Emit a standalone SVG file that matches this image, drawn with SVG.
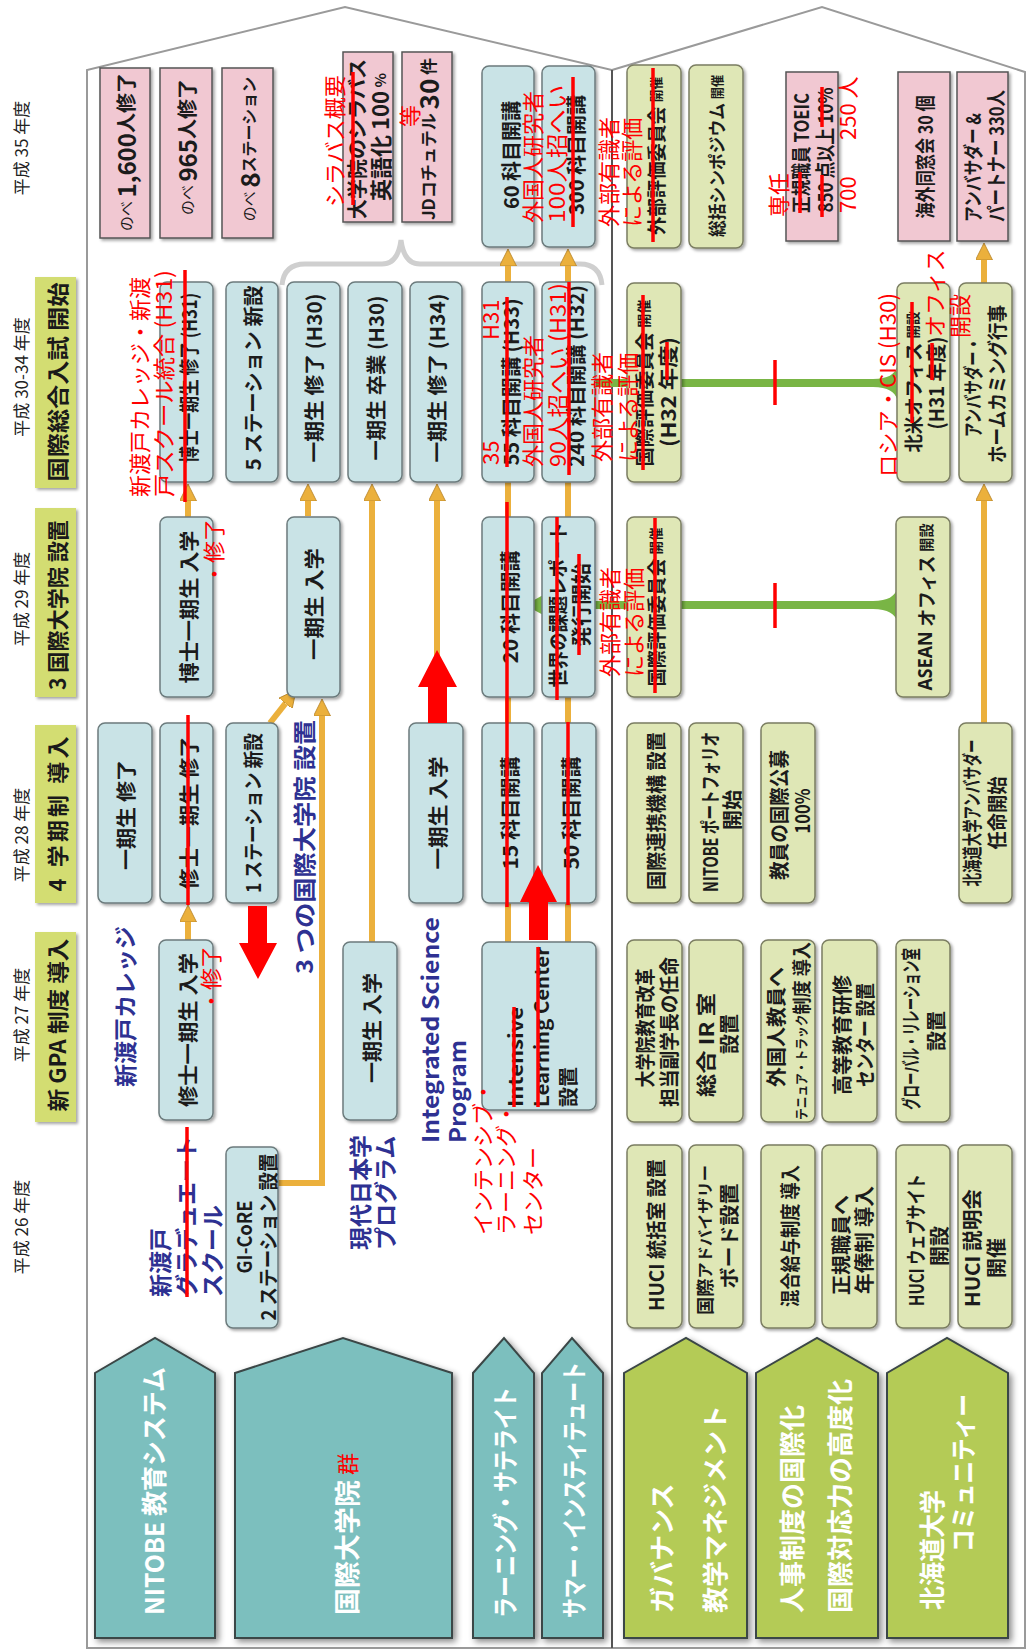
<svg xmlns="http://www.w3.org/2000/svg" width="1027" height="1651" viewBox="0 0 1027 1651">
<defs>
<style>
text{font-family:"Noto Sans CJK JP","Noto Sans",sans-serif;dominant-baseline:central}
.c{text-anchor:middle}
.st{text-anchor:start}
.yr{font-size:17px;fill:#222}
.evb{fill:#d3dd72;filter:url(#ds)}
.evt{font-size:22px;font-weight:700;fill:#1a1a1a}
.bl{fill:#c9e3e6;stroke:#6c7b7d;stroke-width:1.5;filter:url(#ds)}
.gr{fill:#dfe7b6;stroke:#7b7e62;stroke-width:1.5;filter:url(#ds)}
.pk{fill:#f1c8d2;stroke:#555;stroke-width:1.5;filter:url(#ds)}
.b{font-size:20px;font-weight:700;fill:#1b1b1b}
.cat{stroke:#3b4646;stroke-width:2;filter:url(#ds2)}
.teal{fill:#7bbfbe}
.lime{fill:#b4cb56}
.ct{font-size:26px;font-weight:700;fill:#fff}
.nv{font-size:23px;font-weight:700;fill:#2e3192}
.r{font-size:22px;fill:#ff0000}
.rl{stroke:#ff0000;stroke-width:3.5}
.ora{stroke:#ebb03c;stroke-width:6;fill:none}
.gln{stroke:#79b545;stroke-width:8;fill:none}
.gfl{fill:#79b545}
.frame{fill:#fff;stroke:#9a9a9a;stroke-width:2}
.div{stroke:#555;stroke-width:2}
</style>
<filter id="ds" x="-20%" y="-20%" width="150%" height="150%"><feDropShadow dx="2" dy="2" stdDeviation="1.5" flood-color="#000" flood-opacity="0.35"/></filter>
<filter id="ds2" x="-20%" y="-20%" width="150%" height="150%"><feDropShadow dx="3" dy="3" stdDeviation="3" flood-color="#000" flood-opacity="0.45"/></filter>
<marker id="oa" viewBox="0 0 10 10" refX="0" refY="5" markerWidth="17" markerHeight="17" markerUnits="userSpaceOnUse" orient="auto"><path d="M0,0 L10,5 L0,10 z" fill="#ebb03c" stroke="#b8862a" stroke-width="0.5"/></marker>
</defs>
<rect x="0" y="0" width="1027" height="1651" fill="#fff"/>

<g id="frame">
<path class="frame" d="M87,1648 V70 L345,7 L612,70 V1648 Z"/>
<path class="frame" d="M612,70 L822,7 L1025,72 V1648 H612 Z"/>
<line class="div" x1="612" y1="70" x2="612" y2="1648"/>
<path d="M282,285 Q284,264 305,264 H382 Q398,264 401,240 Q404,264 420,264 H580 Q600,264 602,285" fill="none" stroke="#cfcfcf" stroke-width="5"/>
</g>

<g id="years">
<text class="yr c" transform="translate(20 148) rotate(-90)">平成 35 年度</text>
<text class="yr c" transform="translate(20 377) rotate(-90)">平成 30-34 年度</text>
<text class="yr c" transform="translate(20 599) rotate(-90)">平成 29 年度</text>
<text class="yr c" transform="translate(20 835) rotate(-90)">平成 28 年度</text>
<text class="yr c" transform="translate(20 1015) rotate(-90)">平成 27 年度</text>
<text class="yr c" transform="translate(20 1227) rotate(-90)">平成 26 年度</text>
</g>

<g id="ev-sogo-nyushi"><rect class="evb" x="35" y="277" width="41" height="211"/><text class="evt c" transform="translate(56 382) rotate(-90)" textLength="199" lengthAdjust="spacingAndGlyphs">国際総合入試 開始</text></g>
<g id="ev-daigakuin"><rect class="evb" x="35" y="508" width="41" height="189"/><text class="evt c" transform="translate(56 605) rotate(-90)" textLength="170" lengthAdjust="spacingAndGlyphs">3 国際大学院 設置</text></g>
<g id="ev-gakkisei"><rect class="evb" x="35" y="725" width="41" height="178"/><text class="evt c" transform="translate(56 814) rotate(-90)" textLength="155" lengthAdjust="spacing">4 学期制 導入</text></g>
<g id="ev-gpa"><rect class="evb" x="35" y="932" width="41" height="190"/><text class="evt c" transform="translate(56 1025) rotate(-90)" textLength="173" lengthAdjust="spacingAndGlyphs">新 GPA 制度 導入</text></g>

<g id="connectors">
<path class="gln" d="M541,605 H876"/>
<polygon class="gfl" points="525,605 545,594 545,616"/>
<path class="gfl" d="M873,601 C888,601 895,596 897,589 L897,621 C895,614 888,609 873,609 Z"/>
<path class="gln" d="M595,383 H876"/>
<path class="gfl" d="M873,379 C888,379 895,374 897,367 L897,399 C895,392 888,387 873,387 Z"/>
<path class="ora" d="M188,940 V922" marker-end="url(#oa)"/>
<path class="ora" d="M188,517 V501" marker-end="url(#oa)"/>
<path class="ora" d="M308,516 V501" marker-end="url(#oa)"/>
<path class="ora" d="M372,942 V501" marker-end="url(#oa)"/>
<path class="ora" d="M437,723 V501" marker-end="url(#oa)"/>
<path class="ora" d="M508,282 V266" marker-end="url(#oa)"/>
<path class="ora" d="M568,282 V266" marker-end="url(#oa)"/>
<path class="ora" d="M984,723 V501" marker-end="url(#oa)"/>
<path class="ora" d="M984,283 V260" marker-end="url(#oa)"/>
<path class="ora" d="M278,1183 H322 V716" marker-end="url(#oa)"/>
<path class="ora" d="M270,723 L285.5,703.4" marker-end="url(#oa)"/>
<path class="ora" d="M508,942 V903 M568,942 V903 M508,723 V697 M568,723 V697 M508,517 V482 M568,517 V482"/>
</g>

<!-- left half nodes -->
<g id="n-a35"><rect class="pk" x="100" y="68" width="50" height="170"/><text class="b c" transform="translate(125 152) rotate(-90)"><tspan font-size="15" font-weight="400">のべ </tspan><tspan font-size="24">1,600</tspan>人修了</text></g>
<g id="n-b35"><rect class="pk" x="160" y="68" width="52" height="170"/><text class="b c" transform="translate(186 147) rotate(-90)"><tspan font-size="15" font-weight="400">のべ </tspan><tspan font-size="24">965</tspan>人修了</text></g>
<g id="n-c35"><rect class="pk" x="222" y="68" width="51" height="170"/><text class="b c" transform="translate(248 149) rotate(-90)"><tspan font-size="15" font-weight="400">のべ </tspan><tspan font-size="26">8</tspan><tspan font-size="16">ステーション</tspan></text></g>
<g id="n-e35"><rect class="pk" x="343" y="52" width="50" height="170"/><text class="b c" transform="translate(356 139) rotate(-90)" font-size="15">大学院のシラバス</text><text class="b c" transform="translate(379 137) rotate(-90)"><tspan font-size="22">英語化 100</tspan><tspan font-size="15"> %</tspan></text></g>
<g id="n-f35"><rect class="pk" x="402" y="52" width="50" height="170"/><text class="b c" transform="translate(427 139) rotate(-90)"><tspan font-size="17">JDコチュテル </tspan><tspan font-size="26">30</tspan><tspan font-size="17"> 件</tspan></text></g>
<g id="n-g35"><rect class="bl" x="482" y="66" width="52" height="181" rx="7"/><text class="b c" transform="translate(510 155) rotate(-90)" font-size="21">60 科目開講</text></g>
<g id="n-h35"><rect class="bl" x="542" y="66" width="53" height="181" rx="7"/><text class="b c" transform="translate(575 155) rotate(-90)" font-size="21">300 科目開講</text></g>

<g id="n-b30"><rect class="bl" x="160" y="282" width="53" height="200" rx="7"/><text class="b c" transform="translate(188 378) rotate(-90)" textLength="170" lengthAdjust="spacingAndGlyphs">博士一期生 修了 (H31)</text></g>
<g id="n-c30"><rect class="bl" x="226" y="282" width="52" height="200" rx="7"/><text class="b c" transform="translate(252 378) rotate(-90)" textLength="185" lengthAdjust="spacingAndGlyphs">5 ステーション 新設</text></g>
<g id="n-d30"><rect class="bl" x="287" y="282" width="53" height="200" rx="7"/><text class="b c" transform="translate(313 378) rotate(-90)" textLength="169" lengthAdjust="spacingAndGlyphs">一期生 修了 (H30)</text></g>
<g id="n-e30"><rect class="bl" x="348" y="282" width="54" height="200" rx="7"/><text class="b c" transform="translate(375 378) rotate(-90)" textLength="165" lengthAdjust="spacingAndGlyphs">一期生 卒業 (H30)</text></g>
<g id="n-f30"><rect class="bl" x="410" y="282" width="52" height="200" rx="7"/><text class="b c" transform="translate(436 378) rotate(-90)" textLength="169" lengthAdjust="spacingAndGlyphs">一期生 修了 (H34)</text></g>
<g id="n-g30"><rect class="bl" x="482" y="282" width="52" height="200" rx="7"/><text class="b c" transform="translate(510 382) rotate(-90)" textLength="167" lengthAdjust="spacingAndGlyphs">55 科目開講 (H33)</text></g>
<g id="n-h30"><rect class="bl" x="542" y="282" width="53" height="200" rx="7"/><text class="b c" transform="translate(575 376) rotate(-90)" textLength="182" lengthAdjust="spacingAndGlyphs">240 科目開講 (H32)</text></g>

<g id="n-b29"><rect class="bl" x="160" y="517" width="53" height="180" rx="7"/><text class="b c" transform="translate(188 607) rotate(-90)" textLength="153" lengthAdjust="spacingAndGlyphs">博士一期生 入学</text></g>
<g id="n-d29"><rect class="bl" x="287" y="517" width="53" height="180" rx="7"/><text class="b c" transform="translate(313 604) rotate(-90)" textLength="112" lengthAdjust="spacingAndGlyphs">一期生 入学</text></g>
<g id="n-g29"><rect class="bl" x="482" y="517" width="52" height="180" rx="7"/><text class="b c" transform="translate(509 607) rotate(-90)" textLength="113" lengthAdjust="spacingAndGlyphs">20 科目開講</text></g>
<g id="n-h29"><rect class="bl" x="542" y="517" width="53" height="180" rx="7"/><text class="b c" transform="translate(557 605) rotate(-90)" font-size="19" textLength="165" lengthAdjust="spacingAndGlyphs">世界の課題レポート</text><text class="b c" transform="translate(580 605) rotate(-90)" font-size="19" textLength="84" lengthAdjust="spacingAndGlyphs">発行開始</text></g>

<g id="n-a28"><rect class="bl" x="98" y="723" width="54" height="180" rx="7"/><text class="b c" transform="translate(125 815) rotate(-90)" textLength="110" lengthAdjust="spacingAndGlyphs">一期生 修了</text></g>
<g id="n-b28"><rect class="bl" x="160" y="723" width="53" height="180" rx="7"/><text class="b c" transform="translate(188 813) rotate(-90)" textLength="153" lengthAdjust="spacingAndGlyphs">修士一期生 修了</text></g>
<g id="n-c28"><rect class="bl" x="226" y="723" width="52" height="180" rx="7"/><text class="b c" transform="translate(252 813) rotate(-90)" textLength="160" lengthAdjust="spacingAndGlyphs">1 ステーション 新設</text></g>
<g id="n-f28"><rect class="bl" x="409" y="723" width="54" height="180" rx="7"/><text class="b c" transform="translate(437 813) rotate(-90)" textLength="113" lengthAdjust="spacingAndGlyphs">一期生 入学</text></g>
<g id="n-g28"><rect class="bl" x="482" y="723" width="52" height="180" rx="7"/><text class="b c" transform="translate(509 813) rotate(-90)" textLength="113" lengthAdjust="spacingAndGlyphs">15 科目開講</text></g>
<g id="n-h28"><rect class="bl" x="542" y="723" width="54" height="180" rx="7"/><text class="b c" transform="translate(570 813) rotate(-90)" textLength="113" lengthAdjust="spacingAndGlyphs">50 科目開講</text></g>

<g id="n-b27"><rect class="bl" x="159" y="940" width="54" height="180" rx="7"/><text class="b c" transform="translate(187 1030) rotate(-90)" textLength="154" lengthAdjust="spacingAndGlyphs">修士一期生 入学</text></g>
<g id="n-e27"><rect class="bl" x="343" y="942" width="54" height="178" rx="7"/><text class="b c" transform="translate(371 1028) rotate(-90)" textLength="110" lengthAdjust="spacingAndGlyphs">一期生 入学</text></g>
<g id="n-ilc"><rect class="bl" x="482" y="942" width="114" height="168" rx="7"/><text class="b st" transform="translate(514 1107) rotate(-90)" font-family="Noto Sans" textLength="100" lengthAdjust="spacingAndGlyphs">Intensive</text><text class="b st" transform="translate(540 1107) rotate(-90)" font-family="Noto Sans" textLength="160" lengthAdjust="spacingAndGlyphs">Learning Center</text><text class="b st" transform="translate(567 1107) rotate(-90)">設置</text></g>

<g id="n-c26"><rect class="bl" x="226" y="1147" width="52" height="181" rx="7"/><text class="b c" transform="translate(243 1237) rotate(-90)" font-family="Noto Sans" font-size="19" textLength="73" lengthAdjust="spacingAndGlyphs">GI-CoRE</text><text class="b c" transform="translate(267 1237) rotate(-90)" font-size="19" textLength="167" lengthAdjust="spacingAndGlyphs">2 ステーション 設置</text></g>

<!-- right half nodes -->
<g id="n-r1-35"><rect class="gr" x="627" y="65" width="54" height="183" rx="7"/><text class="b c" transform="translate(655 156) rotate(-90)" textLength="158" lengthAdjust="spacingAndGlyphs"><tspan font-size="19">外部評価委員会 </tspan><tspan font-size="13">開催</tspan></text></g>
<g id="n-r2-35"><rect class="gr" x="689" y="65" width="54" height="183" rx="7"/><text class="b c" transform="translate(716 156) rotate(-90)" textLength="162" lengthAdjust="spacingAndGlyphs"><tspan font-size="18">総括シンポジウム </tspan><tspan font-size="13">開催</tspan></text></g>
<g id="n-r3-35"><rect class="pk" x="786" y="72" width="52" height="169"/><text class="b c" transform="translate(800 153) rotate(-90)" font-size="17" textLength="120" lengthAdjust="spacingAndGlyphs">正規職員 TOEIC</text><text class="b c" transform="translate(824 150) rotate(-90)" font-size="17" textLength="125" lengthAdjust="spacingAndGlyphs">850 点以上 10%</text></g>
<g id="n-r5-35"><rect class="pk" x="898" y="72" width="52" height="169"/><text class="b c" transform="translate(924 157) rotate(-90)" font-size="19" textLength="123" lengthAdjust="spacingAndGlyphs">海外同窓会 30 個</text></g>
<g id="n-r6-35"><rect class="pk" x="957" y="72" width="51" height="169"/><text class="b st" transform="translate(972 222) rotate(-90)" font-size="18" textLength="109" lengthAdjust="spacingAndGlyphs">アンバサダー &amp;</text><text class="b st" transform="translate(995 222) rotate(-90)" font-size="18" textLength="132" lengthAdjust="spacingAndGlyphs">パートナー 330人</text></g>

<g id="n-r1-30"><rect class="gr" x="627" y="283" width="54" height="199" rx="7"/><text class="b c" transform="translate(643 383) rotate(-90)" textLength="167" lengthAdjust="spacingAndGlyphs"><tspan font-size="19">国際評価委員会 </tspan><tspan font-size="14">開催</tspan></text><text class="b c" transform="translate(667 392) rotate(-90)" font-size="19" textLength="110" lengthAdjust="spacingAndGlyphs">(H32 年度)</text></g>
<g id="n-r5-30"><rect class="gr" x="897" y="283" width="53" height="199" rx="7"/><text class="b c" transform="translate(912 382) rotate(-90)" textLength="141" lengthAdjust="spacingAndGlyphs"><tspan font-size="19">北米オフィス </tspan><tspan font-size="14">開設</tspan></text><text class="b c" transform="translate(935 383) rotate(-90)" font-size="18" textLength="93" lengthAdjust="spacingAndGlyphs">(H31 年度)</text></g>
<g id="n-r6-30"><rect class="gr" x="959" y="283" width="53" height="199" rx="7"/><text class="b c" transform="translate(972 387) rotate(-90)" font-size="18" textLength="100" lengthAdjust="spacingAndGlyphs">アンバサダー・</text><text class="b c" transform="translate(996 384) rotate(-90)" font-size="18" textLength="158" lengthAdjust="spacingAndGlyphs">ホームカミング行事</text></g>

<g id="n-r1-29"><rect class="gr" x="627" y="517" width="54" height="180" rx="7"/><text class="b c" transform="translate(655 607) rotate(-90)" textLength="159" lengthAdjust="spacingAndGlyphs"><tspan font-size="19">国際評価委員会 </tspan><tspan font-size="14">開催</tspan></text></g>
<g id="n-r5-29"><rect class="gr" x="896" y="517" width="54" height="180" rx="7"/><text class="b c" transform="translate(925 607) rotate(-90)" textLength="167" lengthAdjust="spacingAndGlyphs"><tspan font-family="Noto Sans" font-size="19">ASEAN </tspan><tspan font-size="19">オフィス </tspan><tspan font-size="15">開設</tspan></text></g>

<g id="n-r1-28"><rect class="gr" x="627" y="723" width="54" height="180" rx="7"/><text class="b c" transform="translate(655 811) rotate(-90)" font-size="19" textLength="158" lengthAdjust="spacingAndGlyphs">国際連携機構 設置</text></g>
<g id="n-r2-28"><rect class="gr" x="689" y="723" width="54" height="180" rx="7"/><text class="b c" transform="translate(709 812) rotate(-90)" font-size="18" textLength="160" lengthAdjust="spacingAndGlyphs">NITOBE ポートフォリオ</text><text class="b c" transform="translate(731 810) rotate(-90)" font-size="18">開始</text></g>
<g id="n-r3-28"><rect class="gr" x="761" y="723" width="54" height="180" rx="7"/><text class="b c" transform="translate(778 815) rotate(-90)" font-size="19" textLength="130" lengthAdjust="spacingAndGlyphs">教員の国際公募</text><text class="b c" transform="translate(801 811) rotate(-90)" font-size="18" textLength="45" lengthAdjust="spacingAndGlyphs">100%</text></g>
<g id="n-r6-28"><rect class="gr" x="959" y="723" width="53" height="180" rx="7"/><text class="b c" transform="translate(971 813) rotate(-90)" font-size="18" textLength="147" lengthAdjust="spacingAndGlyphs">北海道大学アンバサダー</text><text class="b c" transform="translate(996 813) rotate(-90)" font-size="18" textLength="73" lengthAdjust="spacingAndGlyphs">任命開始</text></g>

<g id="n-r1-27"><rect class="gr" x="627" y="940" width="55" height="182" rx="7"/><text class="b c" transform="translate(644 1028) rotate(-90)" font-size="19" textLength="119" lengthAdjust="spacingAndGlyphs">大学院教育改革</text><text class="b c" transform="translate(668 1032) rotate(-90)" font-size="19" textLength="150" lengthAdjust="spacingAndGlyphs">担当副学長の任命</text></g>
<g id="n-r2-27"><rect class="gr" x="689" y="940" width="54" height="182" rx="7"/><text class="b c" transform="translate(705 1045) rotate(-90)" font-size="19" textLength="104" lengthAdjust="spacingAndGlyphs">総合 IR 室</text><text class="b c" transform="translate(728 1034) rotate(-90)" font-size="18">設置</text></g>
<g id="n-r3-27"><rect class="gr" x="761" y="940" width="54" height="182" rx="7"/><text class="b c" transform="translate(775 1027) rotate(-90)" font-size="19" textLength="120" lengthAdjust="spacingAndGlyphs">外国人教員へ</text><text class="b c" transform="translate(800 1031) rotate(-90)" textLength="178" lengthAdjust="spacingAndGlyphs"><tspan font-size="13">テニュア・トラック</tspan><tspan font-size="19">制度 導入</tspan></text></g>
<g id="n-r4-27"><rect class="gr" x="822" y="940" width="55" height="182" rx="7"/><text class="b c" transform="translate(841 1035) rotate(-90)" font-size="19" textLength="120" lengthAdjust="spacingAndGlyphs">高等教育研修</text><text class="b c" transform="translate(864 1035) rotate(-90)" font-size="19" textLength="104" lengthAdjust="spacingAndGlyphs">センター 設置</text></g>
<g id="n-r5-27"><rect class="gr" x="896" y="940" width="54" height="182" rx="7"/><text class="b c" transform="translate(910 1029) rotate(-90)" font-size="16" textLength="162" lengthAdjust="spacingAndGlyphs">グローバル・リレーション室</text><text class="b c" transform="translate(935 1031) rotate(-90)" font-size="17">設置</text></g>

<g id="n-r1-26"><rect class="gr" x="627" y="1145" width="55" height="183" rx="7"/><text class="b c" transform="translate(655 1235) rotate(-90)" font-size="19" textLength="152" lengthAdjust="spacingAndGlyphs">HUCI 統括室 設置</text></g>
<g id="n-r2-26"><rect class="gr" x="689" y="1145" width="54" height="183" rx="7"/><text class="b c" transform="translate(704 1240) rotate(-90)" textLength="150" lengthAdjust="spacingAndGlyphs"><tspan font-size="18">国際</tspan><tspan font-size="16">アドバイザリー</tspan></text><text class="b c" transform="translate(728 1236) rotate(-90)" font-size="17" textLength="105" lengthAdjust="spacingAndGlyphs">ボード設置</text></g>
<g id="n-r3-26"><rect class="gr" x="761" y="1145" width="54" height="183" rx="7"/><text class="b c" transform="translate(789 1236) rotate(-90)" font-size="19" textLength="142" lengthAdjust="spacingAndGlyphs">混合給与制度 導入</text></g>
<g id="n-r4-26"><rect class="gr" x="822" y="1145" width="55" height="183" rx="7"/><text class="b c" transform="translate(840 1245) rotate(-90)" font-size="19" textLength="100" lengthAdjust="spacingAndGlyphs">正規職員へ</text><text class="b c" transform="translate(863 1240) rotate(-90)" font-size="19" textLength="108" lengthAdjust="spacingAndGlyphs">年俸制 導入</text></g>
<g id="n-r5-26"><rect class="gr" x="896" y="1145" width="54" height="183" rx="7"/><text class="b c" transform="translate(915 1240) rotate(-90)" font-size="18" textLength="132" lengthAdjust="spacingAndGlyphs">HUCI ウェブサイト</text><text class="b c" transform="translate(938 1246) rotate(-90)" font-size="18">開設</text></g>
<g id="n-r6-26"><rect class="gr" x="958" y="1145" width="54" height="183" rx="7"/><text class="b c" transform="translate(971 1248) rotate(-90)" font-size="19" textLength="118" lengthAdjust="spacingAndGlyphs">HUCI 説明会</text><text class="b c" transform="translate(995 1258) rotate(-90)" font-size="18">開催</text></g>

<!-- category pentagons -->
<g id="cat-nitobe"><polygon class="cat teal" points="95,1638 95,1373 155,1338 215,1373 215,1638"/><text class="ct st" transform="translate(152 1615) rotate(-90)" font-size="25" textLength="248" lengthAdjust="spacingAndGlyphs">NITOBE 教育システム</text></g>
<g id="cat-kokusai"><polygon class="cat teal" points="235,1638 235,1373 343,1338 452,1373 452,1638"/><text class="ct st" transform="translate(345 1615) rotate(-90)" textLength="135" lengthAdjust="spacingAndGlyphs">国際大学院</text></g>
<g id="cat-learning"><polygon class="cat teal" points="473,1638 473,1373 504,1338 534,1373 534,1638"/><text class="ct st" transform="translate(503 1618) rotate(-90)" font-size="23" textLength="231" lengthAdjust="spacingAndGlyphs">ラーニング・サテライト</text></g>
<g id="cat-summer"><polygon class="cat teal" points="542,1638 542,1373 572,1338 603,1373 603,1638"/><text class="ct st" transform="translate(572 1618) rotate(-90)" font-size="21" textLength="256" lengthAdjust="spacingAndGlyphs">サマー・インスティテュート</text></g>
<g id="cat-governance"><polygon class="cat lime" points="624,1638 624,1373 686,1338 747,1373 747,1638"/><text class="ct st" transform="translate(660 1613) rotate(-90)">ガバナンス</text><text class="ct st" transform="translate(713 1613) rotate(-90)">教学マネジメント</text></g>
<g id="cat-jinji"><polygon class="cat lime" points="756,1638 756,1373 817,1338 878,1373 878,1638"/><text class="ct st" transform="translate(790 1613) rotate(-90)">人事制度の国際化</text><text class="ct st" transform="translate(838 1613) rotate(-90)">国際対応力の高度化</text></g>
<g id="cat-hokudai"><polygon class="cat lime" points="887,1638 887,1373 947,1338 1008,1373 1008,1638"/><text class="ct st" transform="translate(930 1610) rotate(-90)" textLength="120" lengthAdjust="spacingAndGlyphs">北海道大学</text><text class="ct st" transform="translate(961 1552) rotate(-90)" textLength="158" lengthAdjust="spacingAndGlyphs">コミュニティー</text></g>

<!-- navy program labels -->
<g id="labels">
<text class="nv st" transform="translate(124 1087) rotate(-90)">新渡戸カレッジ</text>
<text class="nv st" transform="translate(303 974) rotate(-90)" textLength="254" lengthAdjust="spacingAndGlyphs">3 つの国際大学院 設置</text>
<text class="nv st" transform="translate(159 1297) rotate(-90)">新渡戸</text>
<text class="nv st" transform="translate(185 1297) rotate(-90)">グラデュエート</text>
<text class="nv st" transform="translate(211 1297) rotate(-90)">スクール</text>
<text class="nv st" transform="translate(359 1250) rotate(-90)">現代日本学</text>
<text class="nv st" transform="translate(384 1250) rotate(-90)">プログラム</text>
<text class="nv st" transform="translate(429 1143) rotate(-90)" font-family="Noto Sans" font-size="25" textLength="226" lengthAdjust="spacingAndGlyphs">Integrated Science</text>
<text class="nv st" transform="translate(456 1143) rotate(-90)" font-family="Noto Sans" font-size="25" textLength="103" lengthAdjust="spacingAndGlyphs">Program</text>
</g>

<!-- red annotations -->
<g id="annotations">
<line class="rl" x1="353" y1="72" x2="353" y2="205"/>
<line class="rl" x1="185" y1="270" x2="185" y2="502"/>
<line class="rl" x1="188" y1="715" x2="188" y2="905"/>
<line class="rl" x1="187" y1="1127" x2="187" y2="1297"/>
<line class="rl" x1="507" y1="297" x2="507" y2="467"/>
<line class="rl" x1="507" y1="502" x2="507" y2="907"/>
<line class="rl" x1="573" y1="77" x2="573" y2="227"/>
<line class="rl" x1="569" y1="282" x2="569" y2="475"/>
<line class="rl" x1="557" y1="517" x2="557" y2="700"/>
<line class="rl" x1="579" y1="554" x2="579" y2="655"/>
<line class="rl" x1="568" y1="722" x2="568" y2="905"/>
<line class="rl" x1="653" y1="68" x2="653" y2="242"/>
<line class="rl" x1="643" y1="295" x2="643" y2="470"/>
<line class="rl" x1="667" y1="342" x2="667" y2="380"/>
<line class="rl" x1="655" y1="518" x2="655" y2="693"/>
<line class="rl" x1="800" y1="172" x2="800" y2="213"/>
<line class="rl" x1="822" y1="87" x2="822" y2="127"/>
<line class="rl" x1="822" y1="175" x2="822" y2="217"/>
<line class="rl" x1="912" y1="302" x2="912" y2="423"/>
<line class="rl" x1="932" y1="343" x2="932" y2="380"/>
<line class="rl" x1="514" y1="1007" x2="514" y2="1107"/>
<line class="rl" x1="538" y1="947" x2="538" y2="1107"/>
<line class="rl" x1="775" y1="360" x2="775" y2="405"/>
<line class="rl" x1="775" y1="583" x2="775" y2="628"/>
<polygon fill="#f00" points="248,906 267,906 267,943 277,943 258,979 239,943 248,943"/>
<polygon fill="#f00" points="428,723 447,723 447,687 457,687 437,650 418,687 428,687"/>
<polygon fill="#f00" points="529,940 548,940 548,902 557,902 538,865 520,902 529,902"/>
<text class="r st" transform="translate(333 207) rotate(-90)" font-size="23">シラバス概要</text>
<text class="r c" transform="translate(408 116) rotate(-90)" font-size="23">等</text>
<text class="r st" transform="translate(138 497) rotate(-90)" font-size="23">新渡戸カレッジ・新渡</text>
<text class="r st" transform="translate(162 497) rotate(-90)" font-size="23" textLength="227" lengthAdjust="spacingAndGlyphs">戸スクール統合 (H31)</text>
<text class="r st" transform="translate(212 585) rotate(-90)" font-size="20">・修了</text>
<text class="r st" transform="translate(209 1012) rotate(-90)" font-size="20">・修了</text>
<text class="r st" transform="translate(531 223) rotate(-90)" font-size="23">外国人研究者</text>
<text class="r st" transform="translate(555 223) rotate(-90)" font-size="23" textLength="138" lengthAdjust="spacingAndGlyphs">100人招へい</text>
<text class="r st" transform="translate(607 227) rotate(-90)" font-size="23">外部有識者</text>
<text class="r st" transform="translate(630 227) rotate(-90)" font-size="23">による評価</text>
<text class="r st" transform="translate(531 467) rotate(-90)" font-size="23">外国人研究者</text>
<text class="r st" transform="translate(556 467) rotate(-90)" font-size="23" textLength="184" lengthAdjust="spacingAndGlyphs">90人招へい (H31)</text>
<text class="r st" transform="translate(489 465) rotate(-90)" font-size="22">35</text>
<text class="r st" transform="translate(489 340) rotate(-90)" font-size="20">H31</text>
<text class="r st" transform="translate(600 462) rotate(-90)" font-size="23">外部有識者</text>
<text class="r st" transform="translate(626 462) rotate(-90)" font-size="23">による評価</text>
<text class="r st" transform="translate(608 677) rotate(-90)" font-size="23">外部有識者</text>
<text class="r st" transform="translate(632 677) rotate(-90)" font-size="23">による評価</text>
<text class="r st" transform="translate(777 217) rotate(-90)" font-size="23">専任</text>
<text class="r st" transform="translate(846 140) rotate(-90)" font-size="22">250 人</text>
<text class="r st" transform="translate(846 213) rotate(-90)" font-size="21">700</text>
<text class="r st" transform="translate(886 477) rotate(-90)" font-size="22" textLength="184" lengthAdjust="spacingAndGlyphs">ロシア・CIS (H30)</text>
<text class="r st" transform="translate(933 337) rotate(-90)" font-size="22">オフィス</text>
<text class="r st" transform="translate(958 338) rotate(-90)" font-size="22">開設</text>
<text class="r st" transform="translate(481 1235) rotate(-90)" font-size="22">インテンシブ・</text>
<text class="r st" transform="translate(504 1235) rotate(-90)" font-size="22">ラーニング・</text>
<text class="r st" transform="translate(531 1235) rotate(-90)" font-size="22">センター</text>
<text class="r c" transform="translate(346 1464) rotate(-90)" font-size="22">群</text>
</g>
</svg>
